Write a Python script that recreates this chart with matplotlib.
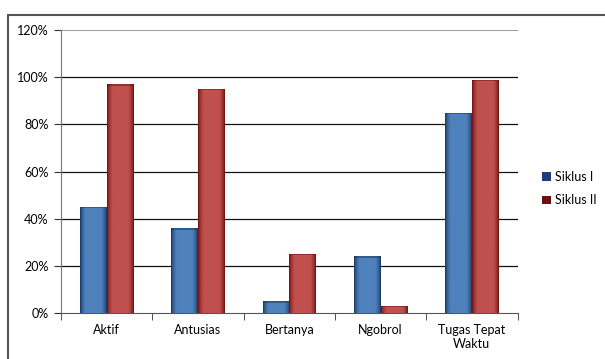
import numpy as np
import matplotlib.pyplot as plt
from matplotlib.patches import Rectangle, Patch
from matplotlib.colors import LinearSegmentedColormap

plt.rcParams['font.family'] = ['Lato', 'DejaVu Sans']

categories = ["Aktif", "Antusias", "Bertanya", "Ngobrol", "Tugas Tepat\nWaktu"]
siklus_1 = [45, 36, 5, 24, 85]
siklus_2 = [97, 95, 25, 3, 99]
series_names = ["Siklus I", "Siklus II"]

# light face, dark rim for the shaded bar look
shades = [
    ("#4F81BD", "#17375E", "#1F3A7A"),
    ("#C0504D", "#6E1010", "#6B0F0F"),
]

fig = plt.figure(figsize=(6.05, 3.59), dpi=100)
ax = fig.add_axes([0.1008, 0.128, 0.7546, 0.7884])

# outer chart frame
fig.patches.append(Rectangle((8 / 605, -0.1), 1.2, 1 - 15 / 359 + 0.1,
                             transform=fig.transFigure, fill=False,
                             edgecolor="#555555", linewidth=1.5))

x = np.arange(len(categories))
width = 0.29
grad = np.concatenate([np.linspace(0, 1, 8) ** 0.6, np.ones(20),
                       np.linspace(1, 0, 8) ** 0.6])[None, :]

for i, vals in enumerate([siklus_1, siklus_2]):
    face, rim, _ = shades[i]
    cmap = LinearSegmentedColormap.from_list("s%d" % i, [rim, face])
    bars = ax.bar(x + (i - 0.5) * width, vals, width, color=face,
                  edgecolor="none", zorder=3)
    for b in bars:
        bx, by = b.get_x(), b.get_y()
        bw, bh = b.get_width(), b.get_height()
        im = ax.imshow(grad, cmap=cmap, aspect="auto", zorder=3,
                       extent=(bx, bx + bw, by, by + bh), interpolation="bilinear")
        im.set_clip_path(b)
        ax.add_patch(Rectangle((bx, by + bh - 0.6), bw, 0.6, color=rim,
                               alpha=0.5, zorder=4, linewidth=0))

ax.set_xlim(-0.5, len(categories) - 0.5)
ax.set_ylim(0, 120)
ax.set_yticks(np.arange(0, 121, 20))
ax.set_yticklabels(["%d%%" % v for v in range(0, 121, 20)], fontsize=9)
ax.set_xticks(x)
ax.set_xticklabels(categories, fontsize=9)
ax.set_xticks(np.arange(-0.5, len(categories), 1), minor=True)
ax.tick_params(axis="x", which="major", length=0, pad=8)
ax.tick_params(axis="x", which="minor", length=5, color="#333333")
ax.tick_params(axis="y", length=5, color="#333333", pad=4)

for v in range(20, 101, 20):
    ax.axhline(v, color="#111111", linewidth=0.9, zorder=1)
ax.axhline(120, color="#888888", linewidth=1.2, zorder=1)

for s in ["top", "right"]:
    ax.spines[s].set_visible(False)
ax.spines["left"].set_color("#777777")
ax.spines["bottom"].set_color("#555555")

handles = [Patch(facecolor=shades[i][2], edgecolor="none") for i in range(2)]
fig.legend(handles, series_names, loc="center left",
           bbox_to_anchor=(0.878, 0.475), frameon=False, fontsize=9,
           handlelength=0.7, handleheight=0.7, handletextpad=0.3,
           labelspacing=0.95)

fig.savefig("out.png", dpi=100)
plt.close(fig)
